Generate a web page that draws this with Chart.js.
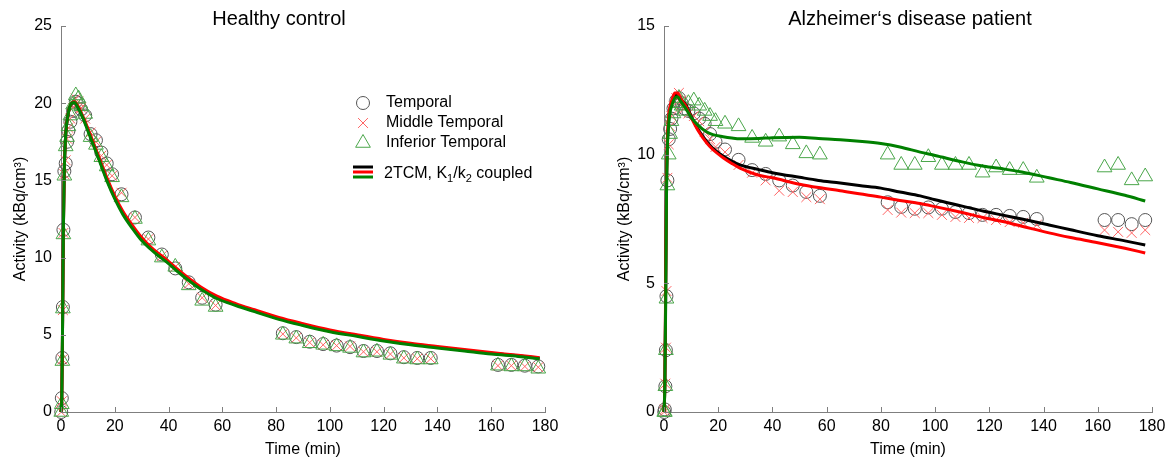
<!DOCTYPE html>
<html>
<head>
<meta charset="utf-8">
<script src="https://cdn.jsdelivr.net/npm/chart.js@4.4.1/dist/chart.umd.min.js"></script>
<style>
  body { margin: 0; background: #fff; }
  #hc { position: absolute; left: 0; top: 0; }
  #ad { position: absolute; left: 590px; top: 0; }
</style>
</head>
<body>
<canvas id="hc" width="590" height="463"></canvas>
<canvas id="ad" width="581" height="463"></canvas>
<script>
// frame mid-times (min), shared by both scans
const TIMES = [0.1, 0.3, 0.5, 0.7, 0.9, 1.25, 1.75, 2.25, 2.75, 3.5, 4.5, 5.5, 6.5, 7.5, 9, 11, 13, 15, 17, 19,
  22.5, 27.5, 32.5, 37.5, 42.5, 47.5, 52.5, 57.5,
  82.5, 87.5, 92.5, 97.5, 102.5, 107.5, 112.5, 117.5, 122.5, 127.5, 132.5, 137.5,
  162.5, 167.5, 172.5, 177.5];

const X_TICKS = [0, 20, 40, 60, 80, 100, 120, 140, 160, 180];

// Healthy control - measured
const HC_TEMPORAL = [0, 0.9, 3.5, 6.8, 11.8, 15.6, 16.1, 17.5, 18.2, 18.8, 19.5, 20.1, 20.0, 19.6, 19.2, 18.0, 17.6, 16.8, 16.1, 15.4,
  14.1, 12.6, 11.3, 10.2, 9.3, 8.4, 7.4, 6.95,
  5.1, 4.85, 4.55, 4.4, 4.3, 4.2, 3.95, 3.95, 3.8, 3.55, 3.5, 3.5,
  3.05, 3.05, 3.0, 2.95];
const HC_MIDDLE = [0, 0.7, 3.4, 6.6, 11.6, 15.4, 16.3, 17.7, 18.4, 19.0, 19.7, 20.3, 20.1, 19.7, 19.0, 18.1, 17.5, 16.6, 16.0, 15.3,
  14.2, 12.6, 11.2, 10.1, 9.4, 8.3, 7.4, 6.9,
  5.05, 4.8, 4.5, 4.35, 4.3, 4.25, 3.9, 3.9, 3.75, 3.5, 3.45, 3.45,
  3.0, 3.0, 2.95, 2.9];
const HC_INFERIOR = [0, 0.5, 3.3, 6.7, 11.5, 15.3, 17.2, 17.8, 18.5, 19.2, 19.9, 20.5, 20.3, 19.8, 19.3, 17.8, 17.3, 16.5, 15.9, 15.2,
  13.9, 12.5, 11.1, 10.0, 9.4, 8.2, 7.2, 6.8,
  5.0, 4.75, 4.45, 4.35, 4.25, 4.15, 3.85, 3.9, 3.7, 3.45, 3.4, 3.4,
  3.0, 2.95, 2.95, 2.8];

// Healthy control - 2TCM fits
const HC_FIT_TIMES = [0, 0.3, 0.6, 0.9, 1.2, 1.6, 2, 3, 4, 5, 6, 8, 10, 12, 14, 17, 20, 23, 26.5, 30, 33, 36, 39, 43, 48, 52, 58,
  65, 72, 81, 90, 100, 110, 120, 130, 140, 150, 160, 170, 178];
const HC_FIT_BLACK = [0, 1, 6, 12, 15.5, 17.5, 18.5, 19.6, 20.0, 20.08, 19.85, 19.15, 18.3, 17.4, 16.5, 15.1, 13.9, 12.9, 12.0, 11.2, 10.7, 10.2, 9.8, 9.2, 8.5, 8.0, 7.4,
  6.95, 6.55, 6.05, 5.65, 5.25, 4.95, 4.65, 4.4, 4.2, 4.0, 3.8, 3.64, 3.48];
const HC_FIT_RED = [0, 1, 6, 12, 15.5, 17.5, 18.5, 19.6, 20.0, 20.1, 19.9, 19.2, 18.35, 17.45, 16.55, 15.2, 14.0, 13.0, 12.1, 11.3, 10.75, 10.3, 9.9, 9.3, 8.6, 8.1, 7.5,
  7.02, 6.62, 6.12, 5.72, 5.32, 5.0, 4.7, 4.45, 4.25, 4.05, 3.85, 3.68, 3.52];
const HC_FIT_GREEN = [0, 1, 6, 12, 15.5, 17.5, 18.5, 19.6, 20.0, 20.05, 19.8, 19.1, 18.2, 17.3, 16.4, 15.0, 13.8, 12.8, 11.9, 11.1, 10.6, 10.15, 9.75, 9.15, 8.45, 7.95, 7.35,
  6.9, 6.5, 6.0, 5.6, 5.2, 4.9, 4.6, 4.35, 4.15, 3.95, 3.75, 3.6, 3.45];

// Alzheimer's disease patient - measured
const AD_TEMPORAL = [0, 0.1, 1.0, 2.4, 4.5, 9.0, 10.6, 11.0, 11.4, 11.8, 12.1, 12.2, 12.0, 11.8, 11.7, 11.6, 11.4, 11.2, 10.8, 10.5,
  10.2, 9.8, 9.4, 9.25, 9.0, 8.8, 8.55, 8.4,
  8.15, 7.97, 7.9, 7.95, 7.9, 7.77, 7.73, 7.66, 7.66, 7.62, 7.58, 7.5,
  7.46, 7.46, 7.3, 7.46];
const AD_MIDDLE = [0, 0.1, 1.1, 2.5, 4.7, 9.1, 10.4, 11.1, 11.5, 11.9, 12.2, 12.4, 12.1, 11.8, 11.6, 11.5, 11.3, 10.9, 10.6, 10.3,
  10.1, 9.6, 9.3, 9.0, 8.6, 8.55, 8.35, 8.27,
  7.85, 7.75, 7.73, 7.73, 7.66, 7.58, 7.54, 7.54, 7.46, 7.38, 7.35, 7.27,
  7.07, 7.0, 6.96, 7.07];
const AD_INFERIOR = [0, 0, 1.0, 2.4, 4.4, 8.8, 10.0, 10.8, 11.3, 11.6, 12.0, 12.2, 11.9, 11.7, 12.0, 12.1, 11.9, 11.7, 11.5, 11.3,
  11.2, 11.1, 10.65, 10.5, 10.7, 10.4, 10.05, 10.0,
  10.0, 9.6, 9.6, 9.9, 9.6, 9.6, 9.6, 9.3, 9.5, 9.4, 9.4, 9.1,
  9.5, 9.6, 9.0, 9.15];

// Alzheimer's disease patient - 2TCM fits
const AD_FIT_TIMES = [0, 0.3, 0.6, 0.9, 1.2, 1.6, 2, 3, 4, 5, 6, 8, 10, 12.5, 15.8, 18, 21.8, 25, 28, 35, 40, 50, 57, 65, 72, 80, 87, 94.5,
  100, 110, 118, 125, 132, 142, 150, 160, 170, 177.5];
const AD_FIT_BLACK = [0, 1, 4.5, 8.5, 10.3, 11.1, 11.6, 12.05, 12.3, 12.3, 12.15, 11.95, 11.5, 11.0, 10.5, 10.25, 9.95, 9.75, 9.6, 9.42, 9.3, 9.12, 9.0, 8.9, 8.8, 8.7, 8.55, 8.4,
  8.25, 8.0, 7.8, 7.65, 7.5, 7.27, 7.08, 6.85, 6.65, 6.49];
const AD_FIT_RED = [0, 1.1, 4.8, 8.8, 10.5, 11.3, 11.75, 12.15, 12.4, 12.4, 12.2, 11.9, 11.45, 10.95, 10.45, 10.2, 9.88, 9.66, 9.48, 9.2, 9.1, 8.85, 8.72, 8.6, 8.48, 8.35, 8.22, 8.1,
  7.98, 7.75, 7.55, 7.4, 7.22, 6.96, 6.78, 6.58, 6.36, 6.18];
const AD_FIT_GREEN = [0, 1, 4, 8.2, 10.1, 11.0, 11.5, 11.95, 12.2, 12.25, 12.1, 11.8, 11.45, 11.15, 10.88, 10.78, 10.7, 10.65, 10.62, 10.63, 10.66, 10.68, 10.63, 10.58, 10.52, 10.43, 10.3, 10.1,
  9.97, 9.72, 9.55, 9.45, 9.33, 9.1, 8.92, 8.67, 8.42, 8.2];

const AXIS_COLOR = '#7f7f7f';
const FONT = 'Arial, "Liberation Sans", sans-serif';
const MARKERS = {
  temporal: { pointStyle: 'circle', radius: 6.5, color: '#555555' },
  middle:   { pointStyle: 'crossRot', radius: 7, color: '#ff6464' },
  inferior: { pointStyle: 'triangle', radius: 8.5, color: '#4aa64a' }
};
const FIT_COLORS = { black: '#000000', red: '#ff0000', green: '#008000' };

const pairs = (xs, ys) => xs.map((x, i) => ({ x: x, y: ys[i] }));

function markerSet(label, values, m) {
    return {
        label: label,
        data: pairs(TIMES, values),
        pointStyle: m.pointStyle,
        pointRadius: m.radius,
        pointBorderWidth: 1,
        pointBorderColor: m.color,
        pointBackgroundColor: 'rgba(0,0,0,0)',
        showLine: false,
        clip: false
    };
}

function fitSet(label, times, values, color) {
    return {
        label: label,
        data: pairs(times, values),
        showLine: true,
        borderColor: color,
        borderWidth: 3,
        pointRadius: 0,
        cubicInterpolationMode: 'monotone',
        clip: false
    };
}

// MATLAB-style ticks pointing into the plot
const innerTicks = {
    id: 'innerTicks',
    afterDraw(chart) {
        const { ctx, chartArea: a, scales: { x, y } } = chart;
        ctx.save();
        ctx.strokeStyle = AXIS_COLOR;
        ctx.lineWidth = 1;
        ctx.beginPath();
        x.ticks.forEach(t => {
            const px = Math.round(x.getPixelForValue(t.value)) + 0.5;
            ctx.moveTo(px, a.bottom);
            ctx.lineTo(px, a.bottom - 5);
        });
        y.ticks.forEach(t => {
            const py = Math.round(y.getPixelForValue(t.value)) + 0.5;
            ctx.moveTo(a.left, py);
            ctx.lineTo(a.left + 5, py);
        });
        ctx.stroke();
        ctx.restore();
    }
};

const plotTitle = {
    id: 'plotTitle',
    afterDraw(chart, args, opts) {
        const ctx = chart.ctx;
        ctx.save();
        ctx.font = '20px ' + FONT;
        ctx.fillStyle = '#000';
        ctx.textAlign = 'center';
        ctx.textBaseline = 'middle';
        ctx.fillText(opts.text, opts.x, 19);
        ctx.restore();
    }
};

const boxLegend = {
    id: 'boxLegend',
    afterDraw(chart, args, opts) {
        if (!opts.show) return;
        const ctx = chart.ctx;
        const mx = 363, tx = 386;
        ctx.save();
        ctx.font = '16px ' + FONT;
        ctx.textBaseline = 'middle';
        ctx.fillStyle = '#000';
        const rows = [
            ['Temporal', MARKERS.temporal, 103],
            ['Middle Temporal', MARKERS.middle, 123],
            ['Inferior Temporal', MARKERS.inferior, 143]
        ];
        rows.forEach(([text, m, yy]) => {
            ctx.strokeStyle = m.color;
            ctx.fillStyle = 'rgba(0,0,0,0)';
            ctx.lineWidth = 1;
            Chart.helpers.drawPoint(ctx, { pointStyle: m.pointStyle, radius: m.radius, borderWidth: 1, rotation: 0 }, mx, yy);
            ctx.fillStyle = '#000';
            ctx.fillText(text, tx, yy);
        });
        [[FIT_COLORS.black, 167], [FIT_COLORS.red, 172], [FIT_COLORS.green, 177]].forEach(([c, yy]) => {
            ctx.strokeStyle = c;
            ctx.lineWidth = 3;
            ctx.beginPath();
            ctx.moveTo(353, yy);
            ctx.lineTo(373, yy);
            ctx.stroke();
        });
        // "2TCM, K1/k2 coupled" with subscripts
        let x = 384;
        const y0 = 174;
        const parts = [['2TCM, K', 0], ['1', 1], ['/k', 0], ['2', 1], [' coupled', 0]];
        ctx.fillStyle = '#000';
        parts.forEach(([s, sub]) => {
            ctx.font = (sub ? '11px ' : '16px ') + FONT;
            ctx.fillText(s, x, sub ? y0 + 5 : y0);
            x += ctx.measureText(s).width;
        });
        ctx.restore();
    }
};

function buildChart(canvasId, cfg) {
    const canvas = document.getElementById(canvasId);
    if (!canvas) return null;
    const ctx = canvas.getContext('2d');

    return new Chart(ctx, {
        type: 'scatter',
        data: {
            datasets: [
                fitSet('2TCM green', cfg.fitTimes, cfg.fitGreen, FIT_COLORS.green),
                fitSet('2TCM red', cfg.fitTimes, cfg.fitRed, FIT_COLORS.red),
                fitSet('2TCM black', cfg.fitTimes, cfg.fitBlack, FIT_COLORS.black),
                markerSet('Inferior Temporal', cfg.inferior, MARKERS.inferior),
                markerSet('Middle Temporal', cfg.middle, MARKERS.middle),
                markerSet('Temporal', cfg.temporal, MARKERS.temporal)
            ]
        },
        options: {
            responsive: false,
            animation: false,
            events: [],
            layout: {
                padding: { left: 0, top: 26, right: cfg.padRight, bottom: 0 }
            },
            scales: {
                x: {
                    type: 'linear',
                    min: 0,
                    max: 180,
                    afterBuildTicks: scale => { scale.ticks = X_TICKS.map(v => ({ value: v })); },
                    afterFit: scale => { scale.height = 51; },
                    grid: { display: false, drawTicks: false },
                    border: { display: true, color: AXIS_COLOR, width: 1 },
                    ticks: { color: '#000', font: { size: 16, family: FONT }, padding: 5, maxRotation: 0 },
                    title: {
                        display: true,
                        text: 'Time (min)',
                        color: '#000',
                        font: { size: 16, family: FONT },
                        padding: { top: 0, bottom: 4 }
                    }
                },
                y: {
                    type: 'linear',
                    min: 0,
                    max: cfg.yMax,
                    afterBuildTicks: scale => { scale.ticks = cfg.yTicks.map(v => ({ value: v })); },
                    afterFit: scale => { scale.width = cfg.yWidth; },
                    grid: { display: false, drawTicks: false },
                    border: { display: true, color: AXIS_COLOR, width: 1 },
                    ticks: { color: '#000', font: { size: 16, family: FONT }, padding: 9 },
                    title: {
                        display: true,
                        text: 'Activity (kBq/cm³)',
                        color: '#000',
                        font: { size: 16, family: FONT },
                        padding: { top: cfg.yTitlePad, bottom: 0 }
                    }
                }
            },
            plugins: {
                legend: { display: false },
                tooltip: { enabled: false },
                plotTitle: { text: cfg.title, x: cfg.titleX },
                boxLegend: { show: cfg.legend }
            }
        },
        plugins: [innerTicks, plotTitle, boxLegend]
    });
}

buildChart('hc', {
    title: 'Healthy control',
    titleX: 279,
    legend: true,
    yMax: 25,
    yTicks: [0, 5, 10, 15, 20, 25],
    yWidth: 61,
    yTitlePad: 11,
    padRight: 45,
    temporal: HC_TEMPORAL,
    middle: HC_MIDDLE,
    inferior: HC_INFERIOR,
    fitTimes: HC_FIT_TIMES,
    fitBlack: HC_FIT_BLACK,
    fitRed: HC_FIT_RED,
    fitGreen: HC_FIT_GREEN
});

buildChart('ad', {
    title: 'Alzheimer‘s disease patient',
    titleX: 320,
    legend: false,
    yMax: 15,
    yTicks: [0, 5, 10, 15],
    yWidth: 74,
    yTitlePad: 25,
    padRight: 19,
    temporal: AD_TEMPORAL,
    middle: AD_MIDDLE,
    inferior: AD_INFERIOR,
    fitTimes: AD_FIT_TIMES,
    fitBlack: AD_FIT_BLACK,
    fitRed: AD_FIT_RED,
    fitGreen: AD_FIT_GREEN
});
</script>
</body>
</html>
